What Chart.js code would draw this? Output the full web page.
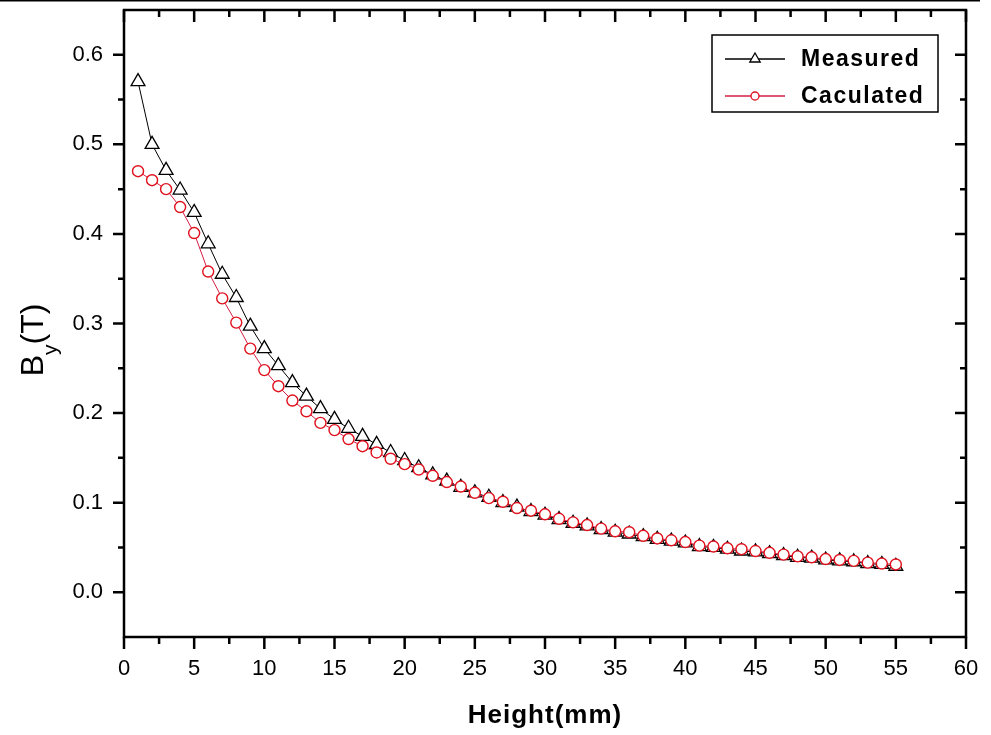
<!DOCTYPE html>
<html>
<head>
<meta charset="utf-8">
<title>By vs Height</title>
<script src="https://cdn.jsdelivr.net/npm/chart.js@4.4.1/dist/chart.umd.min.js"></script>
<style>
  body { margin: 0; background: #fff; }
  #wrap { width: 991px; height: 735px; }
</style>
</head>
<body>
<div id="wrap"><canvas id="myChart" width="991" height="735"></canvas></div>
<script>
// Data
var heights = [1, 2, 3, 4, 5, 6, 7, 8, 9, 10, 11, 12, 13, 14, 15, 16, 17, 18, 19, 20,
  21, 22, 23, 24, 25, 26, 27, 28, 29, 30, 31, 32, 33, 34, 35, 36, 37, 38, 39, 40,
  41, 42, 43, 44, 45, 46, 47, 48, 49, 50, 51, 52, 53, 54, 55];
var measured = [0.570, 0.500, 0.471, 0.449, 0.424, 0.389, 0.355, 0.329, 0.297, 0.272,
  0.253, 0.234, 0.219, 0.205, 0.193, 0.183, 0.174, 0.165, 0.156, 0.147,
  0.139, 0.131, 0.124, 0.117, 0.111, 0.106, 0.100, 0.095, 0.090, 0.086,
  0.081, 0.077, 0.074, 0.070, 0.067, 0.065, 0.062, 0.059, 0.057, 0.055,
  0.051, 0.050, 0.048, 0.046, 0.045, 0.043, 0.041, 0.039, 0.038, 0.036,
  0.035, 0.034, 0.032, 0.031, 0.029];
var calculated = [0.470, 0.460, 0.450, 0.430, 0.401, 0.358, 0.328, 0.301, 0.272, 0.248,
  0.230, 0.214, 0.202, 0.189, 0.181, 0.171, 0.163, 0.156, 0.149, 0.143,
  0.137, 0.130, 0.123, 0.118, 0.111, 0.105, 0.101, 0.094, 0.091, 0.087,
  0.082, 0.078, 0.075, 0.071, 0.068, 0.067, 0.063, 0.060, 0.058, 0.056,
  0.052, 0.051, 0.049, 0.048, 0.046, 0.044, 0.042, 0.040, 0.039, 0.037,
  0.036, 0.035, 0.033, 0.032, 0.031];
var xTicks = [0, 5, 10, 15, 20, 25, 30, 35, 40, 45, 50, 55, 60];
var yTicks = [0.0, 0.1, 0.2, 0.3, 0.4, 0.5, 0.6];
var seriesNames = ["Measured", "Caculated"];

var FONT = "'Liberation Sans Narrow', 'Liberation Sans', Arial, sans-serif";
var SANS = "'Liberation Sans', Arial, sans-serif";
var RED_LINE = "#d41e44";
var RED_MARK = "#e0101c";

function toPoints(values) {
  return heights.map(function (h, i) { return { x: h, y: values[i] }; });
}

// no extra label padding, the plot box is fixed
function fixPadding(s) {
  s.paddingTop = 0;
  s.paddingBottom = 0;
  s.paddingLeft = 0;
  s.paddingRight = 0;
}

// draws the frame, mirrored ticks, titles and legend
var framePlugin = {
  id: "frame",
  afterDraw: function (chart) {
    var c = chart.ctx;
    var a = chart.chartArea;
    var xs = chart.scales.x;
    var ys = chart.scales.y;
    c.save();

    // thin rule at the top of the page
    c.strokeStyle = "#000";
    c.lineWidth = 1.5;
    c.beginPath();
    c.moveTo(0, 0.8);
    c.lineTo(980, 0.8);
    c.stroke();

    // box
    c.lineWidth = 2.5;
    c.strokeRect(a.left, a.top, a.right - a.left, a.bottom - a.top);

    // ticks
    c.lineWidth = 2.5;
    c.beginPath();
    for (var v = 0; v <= 60; v += 2.5) {
      var px = xs.getPixelForValue(v);
      var len = (v % 5 === 0) ? 12 : 7;
      c.moveTo(px, a.bottom); c.lineTo(px, a.bottom + len);
      c.moveTo(px, a.top); c.lineTo(px, a.top + len);
    }
    for (var k = 0; k <= 12; k++) {
      var val = k * 0.05;
      var py = ys.getPixelForValue(val);
      var l2 = (k % 2 === 0) ? 11 : 6;
      c.moveTo(a.left, py); c.lineTo(a.left - l2, py);
      c.moveTo(a.right, py); c.lineTo(a.right - l2, py);
    }
    c.stroke();

    // y title  B_y(T)
    c.save();
    c.translate(43, 340);
    c.rotate(-Math.PI / 2);
    c.fillStyle = "#000";
    c.textBaseline = "alphabetic";
    c.textAlign = "left";
    c.font = "32px " + SANS;
    var wB = c.measureText("B").width;
    var wT = c.measureText("(T)").width;
    c.font = "21px " + SANS;
    var wy = c.measureText("y").width;
    var sx = -(wB + wy + wT) / 2;
    c.font = "32px " + SANS;
    c.fillText("B", sx, 0);
    c.font = "21px " + SANS;
    c.fillText("y", sx + wB, 14);
    c.font = "32px " + SANS;
    c.fillText("(T)", sx + wB + wy, 0);
    c.restore();

    // x title
    c.fillStyle = "#000";
    c.font = "bold 26px " + SANS;
    c.letterSpacing = "1px";
    c.textAlign = "center";
    c.textBaseline = "alphabetic";
    c.fillText("Height(mm)", (a.left + a.right) / 2, 723);

    // legend
    c.letterSpacing = "0px";
    c.lineWidth = 1.5;
    c.strokeStyle = "#000";
    c.strokeRect(712, 35, 226, 77);
    var rows = [59, 96];
    chart.data.datasets.forEach(function (ds, i) {
      var ly = rows[i];
      c.strokeStyle = ds.borderColor;
      c.lineWidth = 1.4;
      c.beginPath();
      c.moveTo(725, ly); c.lineTo(785, ly);
      c.stroke();
      c.fillStyle = "#fff";
      c.strokeStyle = ds.pointBorderColor;
      c.lineWidth = 1.3;
      c.beginPath();
      if (ds.pointStyle === "triangle") {
        var r = 6;
        c.moveTo(755, ly - r);
        c.lineTo(755 + r * 0.866, ly + r / 2);
        c.lineTo(755 - r * 0.866, ly + r / 2);
        c.closePath();
      } else {
        c.arc(755, ly, 4, 0, Math.PI * 2);
      }
      c.fill();
      c.stroke();
      c.fillStyle = "#000";
      c.font = "bold 23px " + SANS;
      c.letterSpacing = "1.5px";
      c.textAlign = "left";
      c.textBaseline = "middle";
      c.fillText(ds.label, 801, ly + 1);
      c.letterSpacing = "0px";
    });

    c.restore();
  }
};

var ctx = document.getElementById("myChart").getContext("2d");
var myChart = new Chart(ctx, {
  type: "line",
  data: {
    datasets: [
      {
        label: seriesNames[0],
        data: toPoints(measured),
        borderColor: "#000",
        borderWidth: 1,
        pointStyle: "triangle",
        pointRadius: 8,
        pointBorderWidth: 1.3,
        pointBorderColor: "#000",
        pointBackgroundColor: "#fff",
        tension: 0,
        order: 2
      },
      {
        label: seriesNames[1],
        data: toPoints(calculated),
        borderColor: RED_LINE,
        borderWidth: 1,
        pointStyle: "circle",
        pointRadius: 5.5,
        pointBorderWidth: 1.4,
        pointBorderColor: RED_MARK,
        pointBackgroundColor: "#fff",
        tension: 0,
        order: 1
      }
    ]
  },
  options: {
    responsive: false,
    animation: false,
    devicePixelRatio: 1,
    layout: { padding: { left: 0, right: 25, top: 10, bottom: 0 } },
    plugins: {
      legend: { display: false },
      tooltip: { enabled: false }
    },
    scales: {
      x: {
        type: "linear",
        min: 0,
        max: 60,
        grid: { display: false, drawTicks: false },
        border: { display: false },
        afterBuildTicks: function (s) {
          s.ticks = xTicks.map(function (v) { return { value: v }; });
        },
        afterFit: function (s) { s.height = 98; fixPadding(s); },
        ticks: {
          padding: 19,
          color: "#000",
          maxRotation: 0,
          font: { family: FONT, size: 22 },
          callback: function (v) { return String(v); }
        }
      },
      y: {
        min: -0.05,
        max: 0.65,
        grid: { display: false, drawTicks: false },
        border: { display: false },
        afterBuildTicks: function (s) {
          s.ticks = yTicks.map(function (v) { return { value: v }; });
        },
        afterFit: function (s) { s.width = 124; fixPadding(s); },
        ticks: {
          padding: 21,
          color: "#000",
          font: { family: FONT, size: 22 },
          callback: function (v) { return Number(v).toFixed(1); }
        }
      }
    }
  },
  plugins: [framePlugin]
});
</script>
</body>
</html>
